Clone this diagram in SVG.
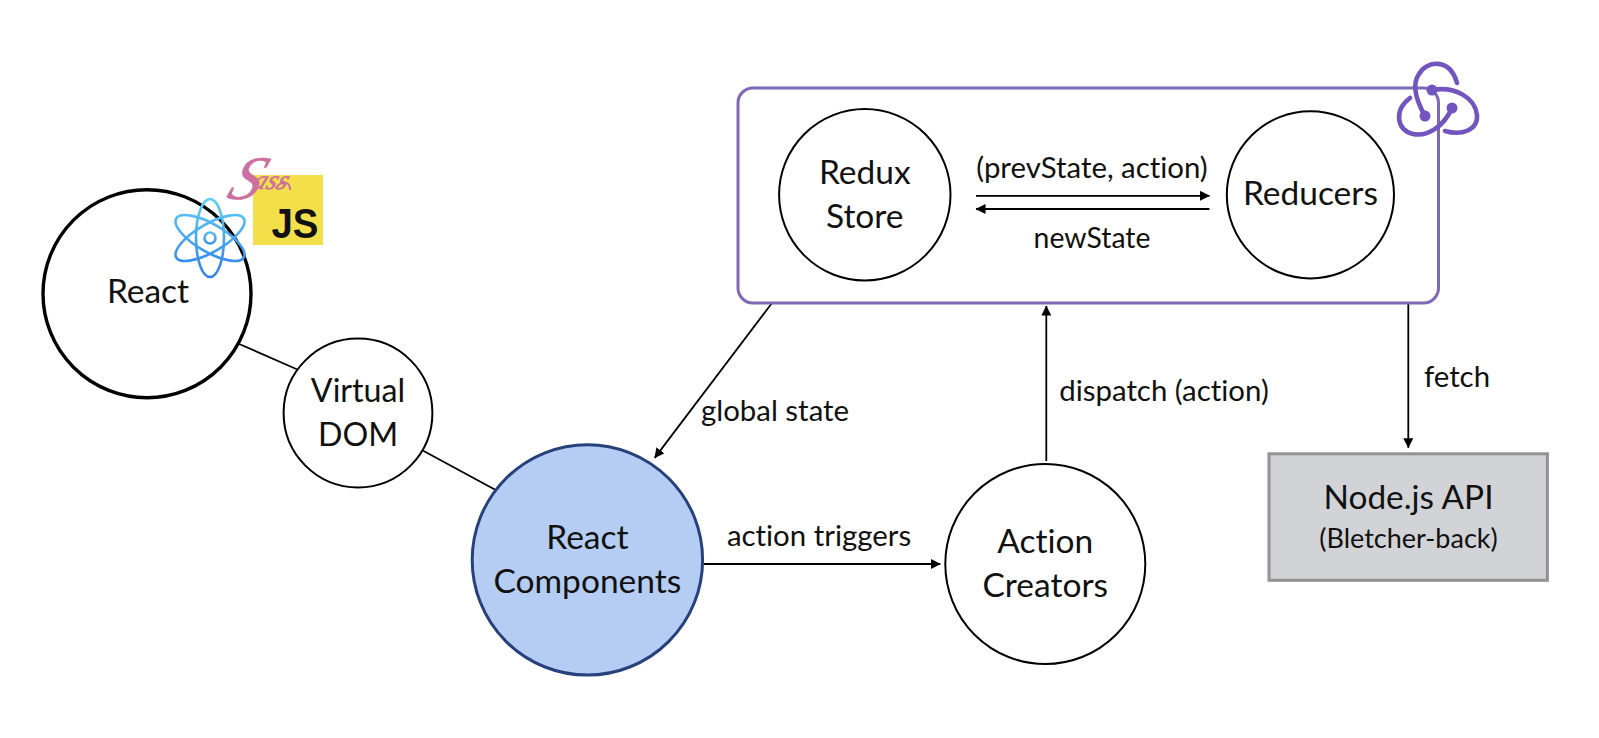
<svg xmlns="http://www.w3.org/2000/svg" width="1599" height="738" viewBox="0 0 1599 738">
<defs>
<marker id="a" markerWidth="11" markerHeight="10" refX="9.5" refY="5" orient="auto" markerUnits="userSpaceOnUse"><path d="M0 0L10 5L0 10Z" fill="#000"/></marker>
<linearGradient id="g1" gradientUnits="userSpaceOnUse" x1="190" y1="203.4" x2="230" y2="272.6"><stop offset="0" stop-color="#5fd0f3"/><stop offset="1" stop-color="#2f7df0"/></linearGradient>
<linearGradient id="g2" gradientUnits="userSpaceOnUse" x1="170" y1="238" x2="250" y2="238"><stop offset="0" stop-color="#5fd0f3"/><stop offset="1" stop-color="#2f7df0"/></linearGradient>
<linearGradient id="g3" gradientUnits="userSpaceOnUse" x1="190" y1="272.6" x2="230" y2="203.4"><stop offset="0" stop-color="#5fd0f3"/><stop offset="1" stop-color="#2f7df0"/></linearGradient>
<linearGradient id="g4" x1="0" y1="0" x2="0" y2="1"><stop offset="0" stop-color="#55b8f2"/><stop offset="1" stop-color="#3f95f1"/></linearGradient>
</defs>
<style>
text{font-family:"Lato","Liberation Sans",sans-serif;fill:#111;text-anchor:middle;font-variant-ligatures:none}
.n{font-size:33.5px}
.l{font-size:29.4px}
.c{fill:#fff;stroke:#000;stroke-width:2}
.e{fill:none;stroke:#000;stroke-width:1.8}
.ea{fill:none;stroke:#000;stroke-width:1.8;marker-end:url(#a)}
.rx{fill:none;stroke:#7255bf;stroke-width:4.6;stroke-linecap:round}
.at{fill:none;stroke-width:2.6}
</style>
<rect width="1599" height="738" fill="#fff"/>
<g id="connectors">
<path class="e" d="M238.6 343.7L296.8 369.2"/>
<path class="e" d="M423.2 450.7L496.6 490.5"/>
<path class="ea" d="M772 303L654.7 457.9"/>
<path class="ea" d="M1046.3 461V306"/>
<path class="ea" d="M703.7 564H940.3"/>
<path class="ea" d="M1408.3 303V447.7"/>
<path class="ea" d="M976 195.8H1209.5"/>
<path class="ea" d="M1209.5 209H976"/>
</g>
<g id="redux-box"><rect x="738" y="88" width="700.5" height="215" rx="15" fill="none" stroke="#7f68b8" stroke-width="3"/></g>
<g id="redux-logo">
<path class="rx" d="M1425 116C1416 100 1412 84 1419 74C1427 60 1450 58 1457 83"/>
<path class="rx" d="M1432 90C1456 86 1475 98 1477 115C1478 130 1462 136 1445 131"/>
<path class="rx" d="M1452 108C1444 126 1428 137 1413 134C1396 130 1394 110 1410 98"/>
<circle cx="1432" cy="90" r="5.5" fill="#7255bf"/>
<circle cx="1425" cy="116" r="5.5" fill="#7255bf"/>
<circle cx="1452" cy="108" r="5.5" fill="#7255bf"/>
</g>
<g id="logos">
<rect x="253" y="175" width="70" height="70" fill="#f3df4a"/>
<text x="295" y="237.5" textLength="47" lengthAdjust="spacingAndGlyphs" style="font-family:'Liberation Sans',sans-serif;font-weight:700;font-size:43px;fill:#111">JS</text>
<text x="0" y="0" transform="translate(225 199) skewX(-22)" style="font-family:'Liberation Serif',serif;font-style:italic;font-size:62px;fill:#cd6f9f;stroke:#cd6f9f;stroke-width:.5;text-anchor:start">S<tspan font-size="27" dx="-9" dy="-10">ass</tspan></text>
<path d="M276 188C282 180 290 181 290 190" fill="none" stroke="#cd6f9f" stroke-width="2"/>
</g>
<g id="react"><circle class="c" style="stroke-width:3.4" cx="147" cy="293.7" r="104"/><text class="n" x="148" y="303">React</text></g>
<g id="react-logo">
<ellipse class="at" stroke="url(#g1)" cx="210" cy="238" rx="39" ry="14" transform="rotate(30 210 238)"/>
<ellipse class="at" stroke="url(#g2)" cx="210" cy="238" rx="39" ry="14" transform="rotate(90 210 238)"/>
<ellipse class="at" stroke="url(#g3)" cx="210" cy="238" rx="39" ry="14" transform="rotate(150 210 238)"/>
<circle class="at" stroke="url(#g4)" cx="210" cy="238" r="5.5"/>
</g>
<g id="virtual-dom"><circle class="c" cx="358" cy="413" r="74.4"/><text class="n" style="font-size:32.2px" x="358" y="402">Virtual</text><text class="n" style="font-size:32.2px" x="358" y="446">DOM</text></g>
<g id="react-components"><circle cx="587.4" cy="559.9" r="115.2" fill="#b5cdf2" stroke="#26407c" stroke-width="3"/><text class="n" x="587.4" y="549">React</text><text class="n" x="587.4" y="593">Components</text></g>
<g id="action-creators"><circle class="c" cx="1045.3" cy="564" r="100"/><text class="n" x="1045.3" y="553">Action</text><text class="n" x="1045.3" y="597">Creators</text></g>
<g id="redux-store"><circle class="c" cx="864.8" cy="194.8" r="85.7"/><text class="n" x="864.8" y="184">Redux</text><text class="n" x="864.8" y="228">Store</text></g>
<g id="reducers"><circle class="c" cx="1310.4" cy="194.8" r="83.6"/><text class="n" x="1310.4" y="205">Reducers</text></g>
<g id="node-api"><rect x="1269" y="453.8" width="278.4" height="126.5" fill="#d2d3d6" stroke="#929292" stroke-width="3"/><text x="1408.5" y="509" style="font-size:33.4px">Node.js API</text><text x="1408.5" y="548" style="font-size:27px">(Bletcher-back)</text></g>
<g id="labels">
<text class="l" x="1092" y="178">(prevState, action)</text>
<text class="l" style="font-size:28.4px" x="1092" y="248">newState</text>
<text class="l" x="775" y="421">global state</text>
<text class="l" x="1164" y="401">dispatch (action)</text>
<text class="l" x="819" y="546">action triggers</text>
<text class="l" x="1457" y="387">fetch</text>
</g>
</svg>
